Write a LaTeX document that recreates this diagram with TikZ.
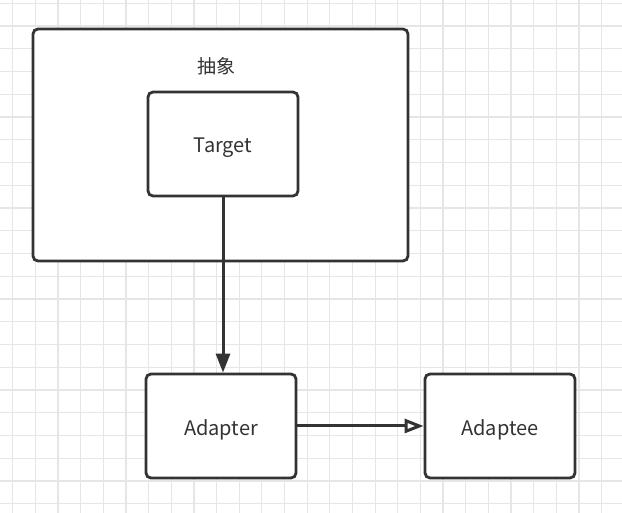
\documentclass[tikz,border=0pt]{standalone}
\usepackage{fontspec}
\setmainfont{Noto Sans CJK SC}
\usetikzlibrary{arrows.meta}
\definecolor{gridc}{HTML}{E6E6E6}
\definecolor{ink}{HTML}{333333}
\begin{document}
\begin{tikzpicture}[x=1pt,y=-1pt,
  box/.style={draw=ink,line width=2.8pt,rounded corners=5pt,fill=white,minimum width=150pt,minimum height=104pt,inner sep=0pt,font=\fontsize{20}{24}\selectfont,text=ink},
  lbltxt/.style={font=\fontsize{20}{24}\selectfont,text=ink},
  conn/.style={draw=ink,line width=3pt}]
\fill[white] (0,0) rectangle (622,513);
\useasboundingbox (0,0) rectangle (622,513);
\foreach \i in {0,...,27} {
  \draw[gridc,line width=1.2pt] (12.7+22.65*\i,0) -- (12.7+22.65*\i,513);
}
\foreach \i in {0,...,22} {
  \draw[gridc,line width=1.2pt] (0,3.3+22.75*\i) -- (622,3.3+22.75*\i);
}
\node[box,minimum width=375pt,minimum height=232pt] (outer) at (220.5,145) {};
\node[font=\fontsize{19}{22}\selectfont,text=ink] (lbl) at (216,66) {抽象};
\node[box] (target) at (223,144) {};
\node[lbltxt] (ttxt) at (223,147.5) {Target};
\node[box] (adapter) at (221,426) {};
\node[lbltxt] (atxt) at (221,429.5) {Adapter};
\node[box] (adaptee) at (500,426) {};
\node[lbltxt] (eetxt) at (500,429.5) {Adaptee};
\draw[conn,-{Triangle[length=19pt,width=14pt]}] (target.south) -- (target.south |- adapter.north);
\draw[conn,-{Triangle[open,length=19pt,width=14pt,fill=white,line width=3pt]}] (adapter.east) -- (adaptee.west);
\end{tikzpicture}
\end{document}
